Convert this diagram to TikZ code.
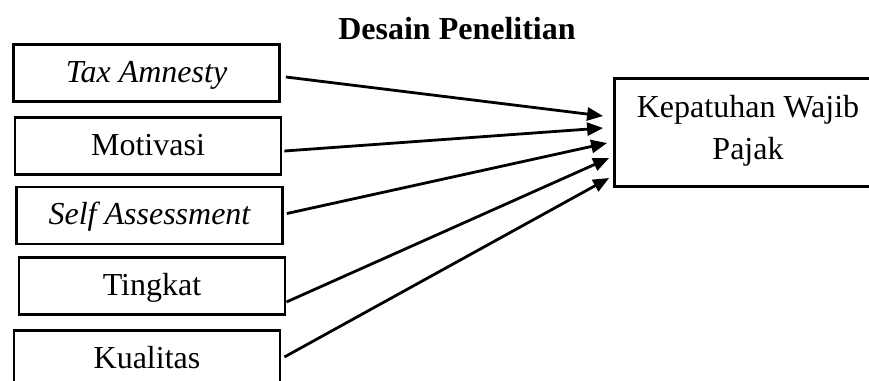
\documentclass[tikz,border=0pt]{standalone}
\usepackage{fontspec}
\setmainfont{Liberation Serif}
\usetikzlibrary{arrows.meta}
\tikzset{
  varbox/.style={draw, line width=2.8pt, minimum width=266pt, minimum height=57pt, inner sep=0pt, text height=22pt, text depth=4pt, font=\fontsize{32}{42}\selectfont},
  link/.style={line width=2.8pt, -{Triangle[length=16pt,width=13pt]}},
}
\begin{document}
\begin{tikzpicture}[x=1pt,y=-1pt]
\useasboundingbox (0,0) rectangle (869,380);
\clip (0,0) rectangle (869,380);
\node[font=\fontsize{32}{38}\selectfont\bfseries] (title) at (457,29) {Desain Penelitian};
\node[varbox] (tax) at (146.5,73) {\itshape Tax Amnesty};
\node[varbox] (mot) at (148,146) {Motivasi};
\node[varbox] (self) at (149.5,215.5) {\itshape Self Assessment};
\node[varbox] (ting) at (152,286) {Tingkat};
\node[varbox] (kual) at (147,359) {Kualitas};
\node[varbox, text height=, text depth=, minimum width=267pt, minimum height=108pt,
  label={[yshift=2pt,align=center,font=\fontsize{32}{42}\selectfont]center:Kepatuhan Wajib\\Pajak}] (kep) at (748,132.5) {};
\draw[link] ([xshift=5pt,yshift=-4pt]tax.east) -- ([xshift=-10pt,yshift=16.5pt]kep.west);
\draw[link] ([xshift=2pt,yshift=-5pt]mot.east) -- ([xshift=-10pt,yshift=4.5pt]kep.west);
\draw[link] ([xshift=3pt,yshift=2pt]self.east) -- ([xshift=-6pt,yshift=-10.5pt]kep.west);
\draw[link] ([xshift=0pt,yshift=-16pt]ting.east) -- ([xshift=-4pt,yshift=-25.5pt]kep.west);
\draw[link] ([xshift=3pt,yshift=2pt]kual.east) -- ([xshift=-4pt,yshift=-45.5pt]kep.west);
\end{tikzpicture}
\end{document}
